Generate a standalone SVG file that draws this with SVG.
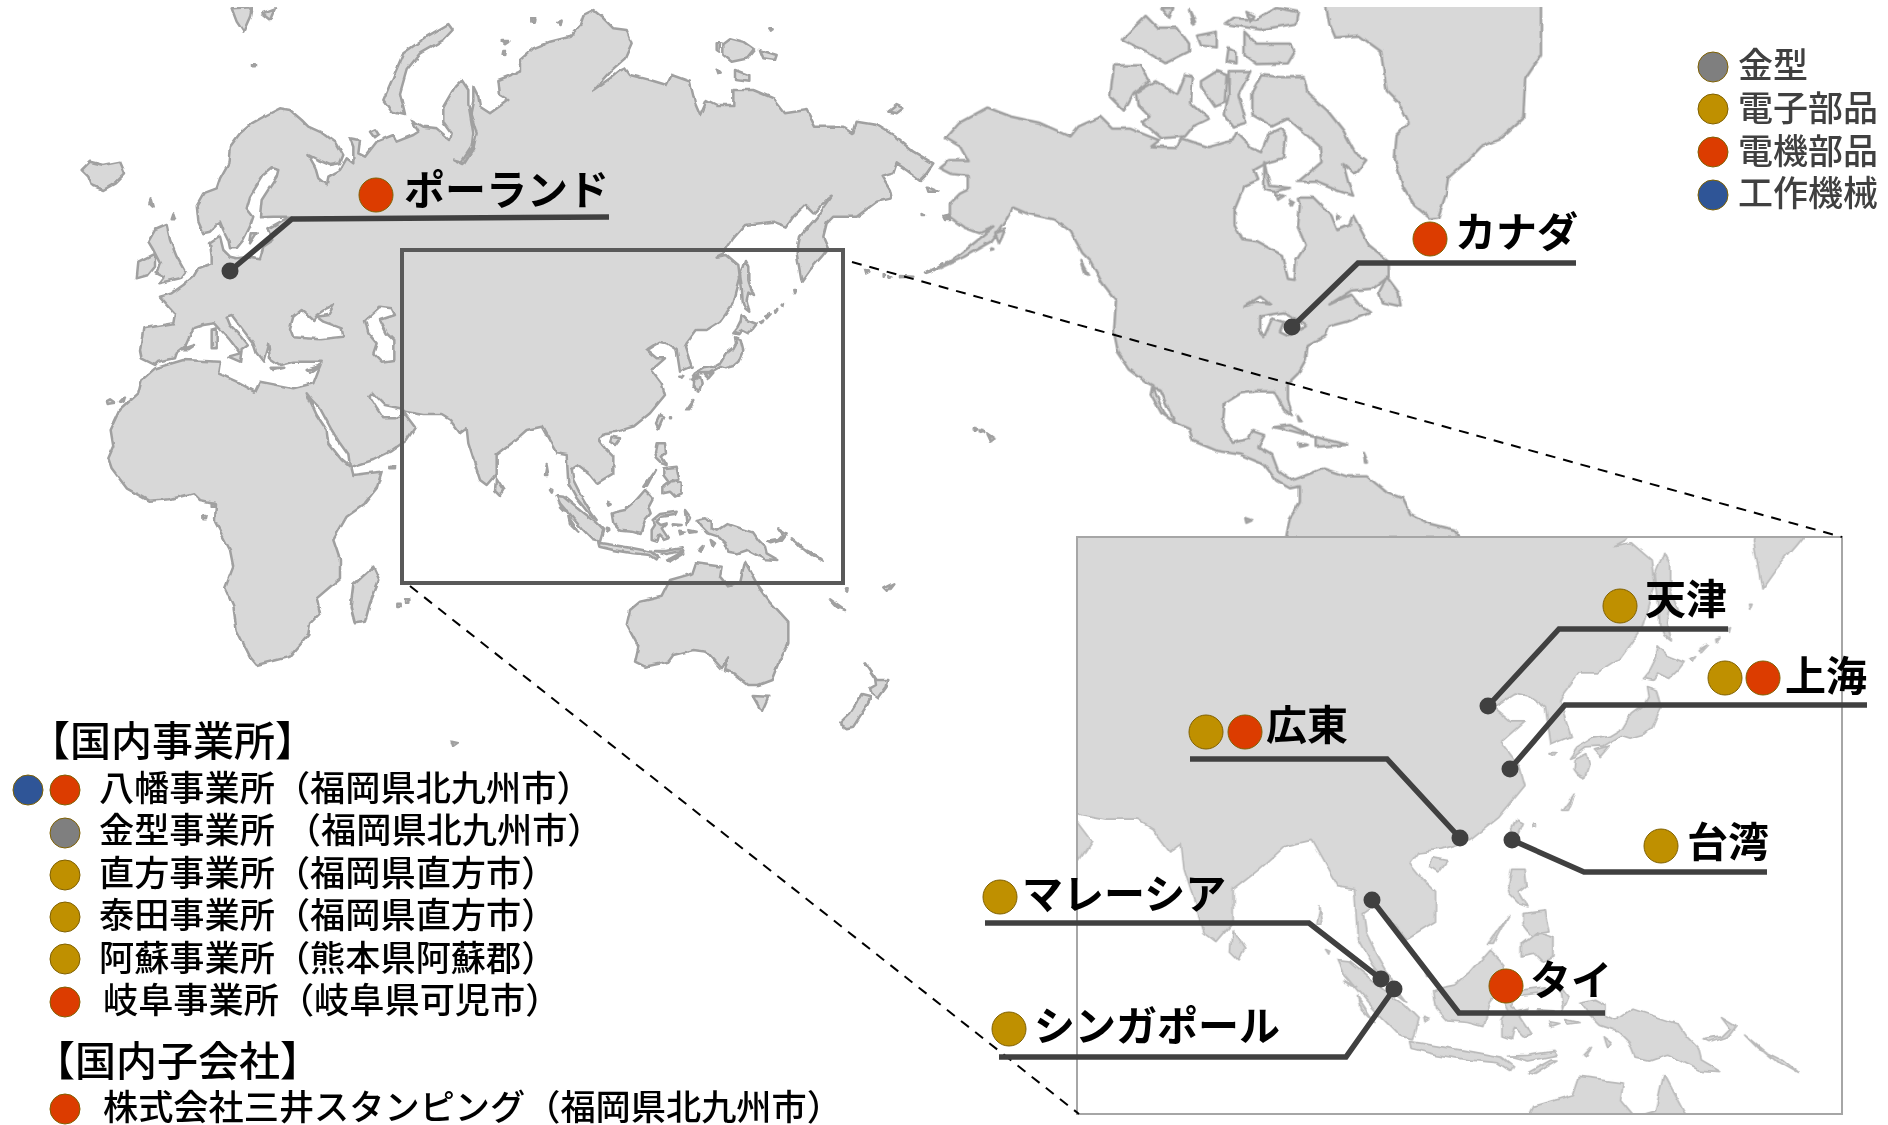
<svg xmlns="http://www.w3.org/2000/svg" xmlns:xlink="http://www.w3.org/1999/xlink" width="1888" height="1125" viewBox="0 0 1888 1125">
<style>
text{font-family:"Noto Sans CJK JP","Noto Sans",sans-serif;fill:#000}
.lab{font-size:41px;font-weight:700}
.head{font-size:41px;font-weight:500}
.li{font-size:35.2px;font-weight:500}
.leg{font-size:35px;font-weight:500;fill:#404040}
.l{fill:#d8d8d8;stroke:var(--s,#a6a6a6);stroke-linejoin:round}
.w{fill:#fff;stroke:var(--s,#a6a6a6);stroke-linejoin:round}
.g3{stroke-width:calc(var(--w,2.5)*3)}
.g9{stroke-width:calc(var(--w,2.5)*2.529)}
.c{stroke:#7f6000;stroke-width:1}
.gy{fill:#7f7f7f}.go{fill:#bf9000}.re{fill:#dc3c00}.bl{fill:#2f5597}
.cn{fill:none;stroke:#404040;stroke-width:5.5;stroke-linejoin:miter}
.dot{fill:#404040}
.dash{fill:none;stroke:#000;stroke-width:2;stroke-dasharray:10 8}
</style>
<defs>
<filter id="rough" filterUnits="userSpaceOnUse" x="0" y="0" width="1888" height="1125" primitiveUnits="userSpaceOnUse">
<feTurbulence type="fractalNoise" baseFrequency=".09" numOctaves="2" seed="4" result="n"/>
<feDisplacementMap in="SourceGraphic" in2="n" scale="4" xChannelSelector="R" yChannelSelector="G"/>
</filter>
<clipPath id="clipMain"><rect x="0" y="7" width="1888" height="1118"/></clipPath>
<clipPath id="clipInset"><rect x="1077" y="537" width="765" height="577"/></clipPath>
<g id="world">
<g class="g3" transform="scale(.33333)">
<path class="l" d="M480,890 515,880 550,855 580,830 595,805 635,790 635,770 630,730 660,710 670,750 690,770 710,775 750,770 780,775 790,740 820,720 805,685 850,660 875,650 820,650 780,652 785,600 830,530 835,510 815,505 790,525 750,590 740,625 760,650 750,680 730,720 710,745 690,745 685,720 670,690 660,665 630,695 610,700 595,665 590,615 610,580 650,565 660,535 685,490 690,440 720,400 755,370 800,345 840,325 870,330 905,360 925,380 970,400 1010,430 1030,465 1020,490 990,495 955,480 925,465 945,500 955,535 980,555 985,530 1020,510 1040,475 1060,490 1060,440 1050,415 1080,420 1075,460 1095,470 1130,425 1180,405 1190,425 1240,405 1255,395 1235,360 1270,380 1310,385 1350,420 1355,400 1330,365 1330,320 1365,260 1385,240 1405,270 1405,310 1420,400 1415,440 1385,485 1360,478 1390,492 1420,445 1430,400 1412,340 1420,300 1420,260 1435,290 1440,320 1470,340 1525,300 1500,285 1495,240 1560,215 1560,180 1600,145 1650,125 1710,110 1740,75 1750,45 1780,30 1810,55 1840,85 1880,90 1895,130 1875,175 1830,215 1780,270 1830,235 1855,215 1875,205 1890,225 1950,240 2000,255 2015,225 2070,245 2085,310 2100,345 2120,300 2150,315 2200,315 2200,270 2260,270 2320,295 2355,340 2420,330 2445,380 2530,380 2560,400 2570,365 2630,375 2680,405 2740,455 2800,490 2780,520 2760,540 2720,510 2690,490 2680,520 2645,530 2670,570 2675,595 2630,605 2570,650 2500,650 2480,670 2470,710 2485,745 2465,770 2430,810 2405,845 2390,760 2400,710 2460,640 2495,590 2480,600 2440,640 2415,615 2380,650 2360,680 2320,665 2235,675 2200,715 2170,760 2150,770 2180,765 2215,795 2220,835 2200,910 2160,965 2120,990 2090,990 2060,1030 2055,1040 2075,1100 2040,1115 2030,1050 2000,1030 1980,1025 1940,1050 1970,1075 1995,1075 1955,1110 1985,1150 1995,1185 1950,1240 1900,1280 1850,1295 1810,1300 1795,1320 1815,1345 1840,1370 1840,1420 1790,1450 1770,1425 1730,1395 1715,1405 1720,1440 1740,1480 1775,1540 1790,1560 1770,1545 1730,1495 1705,1450 1700,1365 1670,1360 1625,1280 1580,1290 1535,1330 1490,1365 1490,1420 1460,1455 1440,1440 1405,1330 1400,1285 1380,1300 1350,1260 1325,1245 1270,1245 1215,1235 1200,1225 1155,1215 1135,1195 1120,1178 1108,1190 1130,1225 1150,1255 1185,1255 1215,1242 1245,1282 1220,1320 1170,1355 1120,1380 1050,1402 1045,1365 1020,1330 995,1290 960,1225 935,1200 920,1180 950,1245 980,1290 985,1330 1025,1380 1055,1405 1060,1425 1100,1420 1145,1415 1130,1465 1090,1515 1040,1550 1000,1620 1020,1680 1020,1735 950,1795 960,1840 930,1870 925,1905 870,1970 770,1995 750,1970 710,1890 700,1820 675,1765 700,1700 690,1650 645,1565 648,1510 600,1500 580,1480 510,1498 445,1502 380,1465 335,1405 325,1375 340,1340 332,1290 360,1230 415,1180 425,1140 465,1105 475,1102 550,1080 660,1085 655,1120 710,1145 765,1175 780,1145 880,1165 940,1150 965,1085 880,1085 840,1095 810,1075 805,1030 790,1085 770,1060 760,1030 725,985 695,945 680,950 690,975 725,1010 745,1035 725,1050 720,1085 685,1070 720,1060 690,1020 645,970 610,975 580,985 555,1040 530,1060 525,1075 475,1085 465,1095 425,1075 420,1050 430,985 520,970 525,940Z"/>
</g>
<g class="g3" transform="translate(60,0) scale(.33333)">
<path class="w" d="M690,985 700,950 725,930 760,960 770,945 800,925 822,915 805,945 770,950 790,965 845,985 850,1010 780,1018 700,1012Z"/>
<path class="w" d="M915,960 960,920 995,925 1005,945 960,960 980,1000 1000,1020 1000,1080 965,1085 940,1060 950,1030 925,1000Z"/>
<path class="l" d="M65,510 90,485 130,495 180,485 195,520 165,550 130,570 95,555 85,530Z M515,25 575,22 570,50 550,95 530,65Z M605,40 645,25 630,60Z M285,690 320,675 330,720 350,770 375,815 360,835 295,850 310,830 290,820 300,790 280,750 265,725Z M235,785 285,760 285,800 265,825 230,835Z M272,598 278,620 268,610Z M340,640 345,655 335,655Z M579,193 585,193 585,199 579,199Z M970,300 1000,230 1030,160 1100,110 1165,72 1178,90 1150,120 1080,160 1040,210 1020,280 1035,345 995,335Z M930,395 945,388 955,402 942,412Z M1325,123 1345,123 1335,130Z M1330,150 1338,150 1335,165 1328,160Z M1418,55 1425,55 1425,63 1418,63Z M455,990 470,985 470,1045 455,1045Z M365,1048 405,1035 385,1048Z M635,1103 670,1103 640,1110Z M740,1110 780,1098 750,1118Z M575,700 590,700 570,730Z"/>
</g>
<g class="g3" transform="translate(500,0) scale(.33333)">
<path class="l" d="M735,780 745,800 745,840 750,860 762,888 745,878 740,900 748,935 735,925 728,905 725,860 720,820 728,800Z M725,945 740,960 770,972 760,985 745,1000 725,990 715,1003 700,1000 712,985 722,965Z M705,1012 722,1018 730,1050 715,1085 700,1098 675,1105 660,1100 630,1118 600,1120 580,1135 572,1138 585,1120 610,1105 640,1100 665,1085 680,1060 700,1045 708,1030Z M580,1140 600,1130 605,1150 598,1172 585,1165 578,1155Z M615,1125 640,1118 625,1135Z M480,1245 490,1250 475,1285 468,1270Z M880,870 886,870 882,880Z M845,918 852,912 850,920Z M825,932 832,930 826,938Z M798,950 812,942 800,955Z M780,968 790,962 784,972Z M560,1228 580,1200 568,1228Z M510,1252 516,1252 516,1258 510,1258Z M538,1130 550,1130 545,1136Z M670,130 690,115 730,125 765,150 745,175 695,185 670,165Z M780,150 830,165 825,180 790,175Z M705,210 745,225 745,245 705,240Z M1165,335 1190,315 1210,325 1190,340Z M650,130 660,130 658,155 650,150Z M805,85 818,85 810,92Z M172,68 185,62 182,78Z M97,55 106,55 104,65 97,65Z M650,205 662,218 655,220Z M1280,560 1315,575 1285,575Z M1265,642 1275,648 1265,648Z M1330,650 1355,645 1350,660 1335,660Z M1330,790 1290,815 1275,820 1330,792Z M1200,828 1240,830 1200,832Z M1165,825 1175,830 1165,835Z M1148,822 1155,825 1148,830Z M1095,810 1108,815 1098,820Z M1425,1285 1432,1288 1426,1292Z M1440,1292 1450,1296 1442,1298Z M1460,1300 1480,1315 1470,1325Z"/>
</g>
<g class="g3" transform="translate(90,340) scale(.33333)">
<path class="l" d="M850,680 868,720 840,790 825,845 795,850 782,800 790,735Z M898,380 915,380 915,388 898,388Z M922,788 932,788 932,798 922,798Z M948,778 958,778 958,788 948,788Z M48,185 60,178 75,188 50,192Z M90,185 105,170 100,188Z M340,528 350,528 348,538 340,538Z M365,488 375,488 372,498 365,498Z"/>
</g>
<g class="g3" transform="translate(400,340) scale(.33333)">
<path class="l" d="M690,810 720,785 785,770 810,720 880,700 890,670 965,680 960,710 985,740 1020,730 1035,665 1070,730 1110,785 1165,845 1165,910 1135,970 1115,1020 1075,1035 1045,1035 1000,1000 975,990 985,955 965,985 920,935 880,930 820,945 805,965 735,980 705,965 715,920 680,855Z M288,415 310,450 300,465 285,450Z M635,290 660,295 645,315 630,305Z M770,310 795,310 798,340 785,350 800,375 785,370 770,355 765,335Z M790,385 830,380 838,420 805,425 790,405Z M790,440 815,420 845,430 845,460 825,470 810,455 790,460Z M730,440 765,390 738,440Z M470,468 490,470 520,495 550,520 585,545 610,570 600,605 580,600 545,565 510,525 480,490Z M635,520 650,515 675,510 700,490 735,450 750,465 758,475 745,500 752,520 735,540 722,582 695,575 660,572 640,550Z M595,608 640,615 700,625 755,635 775,650 770,658 750,645 700,640 640,630 598,620Z M765,633 800,632 845,625 850,632 800,642Z M800,662 840,640 850,640 810,665Z M758,540 780,522 830,515 825,525 785,530 770,545 782,555 800,550 785,565 805,595 790,600 775,585 770,605 755,600 755,570 765,555Z M890,540 915,535 935,545 935,565 950,572 980,552 1020,565 1060,578 1075,600 1095,620 1100,640 1135,660 1095,658 1060,640 1040,630 1010,640 985,635 975,610 955,590 925,580 905,560Z M1105,605 1135,600 1150,585 1135,565 1160,580 1145,600 1115,610Z M1175,595 1200,620 1240,640 1270,665 1235,645Z M855,510 870,530 860,555Z M818,553 845,555 820,558Z M838,572 855,575 840,580Z M865,570 890,575 868,578Z M895,632 908,618 900,635Z M932,600 945,610 938,620Z M440,375 445,405 435,405Z M450,447 457,450 455,455Z M622,485 632,490 625,494Z M618,566 628,570 620,575Z M480,500 505,515 490,510Z M505,530 535,575 510,550Z M1395,970 1420,1005 1430,1020 1465,1020 1460,1040 1435,1075 1415,1060 1410,1045 1428,1035 1425,1015Z M1385,1065 1412,1072 1395,1105 1360,1160 1340,1165 1318,1150 1350,1120Z M1058,1068 1105,1070 1085,1115Z M1290,778 1335,810 1310,800Z M1450,745 1480,730 1460,755Z M1338,745 1346,745 1344,752Z M155,1205 175,1210 160,1220Z"/>
</g>
<g class="g9" transform="translate(940,0) scale(.39540)">
<path class="l" d="M15,350 50,310 120,272 180,295 250,310 330,345 350,320 405,295 435,325 480,325 530,345 555,355 535,370 600,372 610,350 680,372 740,355 750,335 790,375 812,385 830,340 862,325 875,345 870,400 830,410 795,430 805,455 770,470 745,530 745,570 765,605 800,610 865,645 880,705 897,708 900,660 925,620 905,575 910,520 905,500 945,500 990,545 1005,582 1035,570 1045,545 1085,620 1135,660 1135,700 1095,730 1040,735 985,770 1040,745 1060,770 1090,790 1040,810 985,825 975,850 930,875 925,910 905,945 880,970 880,1010 890,1050 870,1035 845,990 800,990 760,995 720,1020 715,1075 740,1120 780,1110 790,1090 820,1100 805,1130 840,1150 855,1190 890,1215 930,1200 970,1185 1030,1205 1080,1205 1130,1245 1170,1260 1190,1300 1240,1325 1300,1340 1315,1360 875,1360 885,1310 910,1270 910,1230 885,1235 850,1215 820,1175 760,1150 700,1140 640,1115 630,1085 595,1070 560,1045 535,1000 540,975 520,965 480,935 450,890 440,840 445,760 410,715 380,660 360,640 330,585 290,555 220,540 185,525 165,560 130,610 60,650 0,678 55,640 135,575 100,590 60,575 25,550 25,515 50,490 70,480 70,445 30,440 0,425 25,405 70,405 50,370Z"/>
<path class="w" d="M540,980 555,985 595,1070 570,1050Z M770,775 810,750 835,770 800,765Z M810,800 870,790 890,800 925,825 880,850 860,840 870,815 840,805 820,850 810,840Z"/>
<path class="l" d="M965,-40 1520,-40 1520,140 1480,200 1475,300 1420,350 1370,370 1330,410 1285,450 1280,490 1260,550 1240,553 1200,520 1170,470 1150,400 1155,340 1185,310 1160,260 1130,230 1115,130 1060,90 1000,95 985,60Z M770,80 800,110 885,110 895,135 880,160 800,162 770,140Z M720,60 810,75 900,60 905,30 850,20 800,50 740,45Z M460,100 520,40 550,70 600,70 630,110 630,130 570,160 520,130 480,110Z M650,90 700,80 700,120 660,115Z M730,120 750,130 750,160 725,155Z M560,20 590,20 580,45Z M630,25 645,55 640,60Z M775,30 795,40 785,55Z M440,165 505,165 530,205 490,235 465,280 430,245Z M495,235 545,205 600,240 620,190 640,195 635,260 680,300 640,320 620,345 560,350 525,320 510,310 530,295 500,265Z M660,205 700,180 725,190 720,260 695,270 660,220Z M730,180 785,180 755,240 775,310 740,320 720,290 730,240Z M790,235 815,190 860,195 920,195 930,235 980,280 1020,330 1050,385 1078,405 1050,440 1020,415 1035,470 1045,495 1000,480 950,460 905,460 965,410 960,370 920,335 880,300 840,320 790,290Z M820,410 835,470 885,475 845,485 820,480Z M850,490 870,495 855,505Z M885,505 895,510 890,520Z M1005,542 1012,548 1005,552Z M1110,740 1130,700 1160,740 1165,775 1120,765Z M845,1080 885,1075 945,1105 890,1090Z M950,1105 1030,1125 950,1130Z M908,1122 930,1125 910,1130Z M905,1050 915,1065 908,1065Z M1072,1145 1082,1170 1075,1170Z M85,1082 92,1084 88,1088Z M100,1088 108,1090 102,1094Z M118,1098 138,1110 128,1116Z M772,1310 788,1316 775,1322Z M355,660 375,695 365,690Z M15,548 28,552 15,555Z M130,628 135,630 128,632Z M140,590 165,580 150,615Z"/>
</g>
</g>
</defs>

<g id="map" clip-path="url(#clipMain)">
<use xlink:href="#world" filter="url(#rough)" style="--s:#a0a0a0;--w:2.5"/>
</g>

<g id="inset">
<rect x="1077" y="537" width="765" height="577" fill="#fff"/>
<g clip-path="url(#clipInset)">
<use xlink:href="#world" filter="url(#rough)" transform="translate(1069,534) scale(1.734) translate(-402,-250)" style="--s:#bababa;--w:1"/>
</g>
<rect x="1077" y="537" width="765" height="577" fill="none" stroke="#a6a6a6" stroke-width="2"/>
</g>

<g id="zoom-frame">
<rect x="402" y="250" width="441" height="333" fill="none" stroke="#595959" stroke-width="4"/>
<line class="dash" x1="852" y1="262" x2="1842" y2="537"/>
<line class="dash" x1="410" y1="586" x2="1079" y2="1114"/>
</g>

<g id="connectors">
<polyline class="cn" points="230,271 292,219 609,217"/><circle class="dot" cx="230" cy="271" r="8.5"/>
<polyline class="cn" points="1292,327 1358,263 1576,263"/><circle class="dot" cx="1292" cy="327" r="8.5"/>
<polyline class="cn" points="1488,706 1559,629 1728,629"/><circle class="dot" cx="1488" cy="706" r="8.5"/>
<polyline class="cn" points="1510,769 1565,705 1867,705"/><circle class="dot" cx="1510" cy="769" r="8.5"/>
<polyline class="cn" points="1190,759 1387,759 1460,838"/><circle class="dot" cx="1460" cy="838" r="8.5"/>
<polyline class="cn" points="1512,840 1584,872 1767,872"/><circle class="dot" cx="1512" cy="840" r="8.5"/>
<polyline class="cn" points="985,923 1309,923 1381,979"/><circle class="dot" cx="1381" cy="979" r="8.5"/>
<polyline class="cn" points="999,1057 1346,1057 1394,989"/><circle class="dot" cx="1394" cy="989" r="8.5"/>
<polyline class="cn" points="1372,900 1459,1013 1605,1013"/><circle class="dot" cx="1372" cy="900" r="8.5"/>
</g>

<g id="node-poland"><circle class="c re" cx="376" cy="195" r="17"/><text class="lab" x="404" y="205">ポーランド</text></g>
<g id="node-canada"><circle class="c re" cx="1430" cy="239" r="17"/><text class="lab" x="1455" y="247">カナダ</text></g>
<g id="node-tianjin"><circle class="c go" cx="1620" cy="606" r="17"/><text class="lab" x="1645" y="614">天津</text></g>
<g id="node-shanghai"><circle class="c go" cx="1725" cy="678" r="17"/><circle class="c re" cx="1763" cy="678" r="17"/><text class="lab" x="1785" y="691">上海</text></g>
<g id="node-guangdong"><circle class="c go" cx="1206" cy="732" r="17"/><circle class="c re" cx="1245" cy="732" r="17"/><text class="lab" x="1266" y="740">広東</text></g>
<g id="node-taiwan"><circle class="c go" cx="1661" cy="846" r="17"/><text class="lab" x="1687" y="857">台湾</text></g>
<g id="node-malaysia"><circle class="c go" cx="1000" cy="897" r="17"/><text class="lab" x="1022" y="909">マレーシア</text></g>
<g id="node-singapore"><circle class="c go" cx="1009" cy="1029" r="17"/><text class="lab" x="1034" y="1041">シンガポール</text></g>
<g id="node-thailand"><circle class="c re" cx="1506" cy="986" r="17"/><text class="lab" x="1530" y="995">タイ</text></g>

<g id="legend-mold"><circle class="c gy" cx="1713" cy="67" r="15"/><text class="leg" x="1738" y="78">金型</text></g>
<g id="legend-electronic"><circle class="c go" cx="1713" cy="109" r="15"/><text class="leg" x="1738" y="121">電子部品</text></g>
<g id="legend-motor"><circle class="c re" cx="1713" cy="152" r="15"/><text class="leg" x="1738" y="164">電機部品</text></g>
<g id="legend-machine"><circle class="c bl" cx="1713" cy="195" r="15"/><text class="leg" x="1738" y="206">工作機械</text></g>

<g id="head-offices"><text class="head" x="29" y="756">【国内事業所】</text></g>
<g id="office-yahata"><circle class="c bl" cx="28" cy="790" r="15"/><circle class="c re" cx="65" cy="790" r="15"/><text class="li" x="99" y="801">八幡事業所（福岡県北九州市）</text></g>
<g id="office-mold"><circle class="c gy" cx="65" cy="833" r="15"/><text class="li" x="99" y="843">金型事業所 <tspan dx="3">（福岡県北九州市）</tspan></text></g>
<g id="office-nogata"><circle class="c go" cx="65" cy="875" r="15"/><text class="li" x="99" y="886">直方事業所（福岡県直方市）</text></g>
<g id="office-taita"><circle class="c go" cx="65" cy="917" r="15"/><text class="li" x="99" y="928">泰田事業所（福岡県直方市）</text></g>
<g id="office-aso"><circle class="c go" cx="65" cy="959" r="15"/><text class="li" x="99" y="971">阿蘇事業所（熊本県阿蘇郡）</text></g>
<g id="office-gifu"><circle class="c re" cx="65" cy="1002" r="15"/><text class="li" x="103" y="1013">岐阜事業所（岐阜県可児市）</text></g>
<g id="head-subsidiary"><text class="head" x="34" y="1076">【国内子会社】</text></g>
<g id="office-stamping"><circle class="c re" cx="65" cy="1109" r="15"/><text class="li" x="103" y="1120">株式会社三井スタンピング（福岡県北九州市）</text></g>
</svg>
